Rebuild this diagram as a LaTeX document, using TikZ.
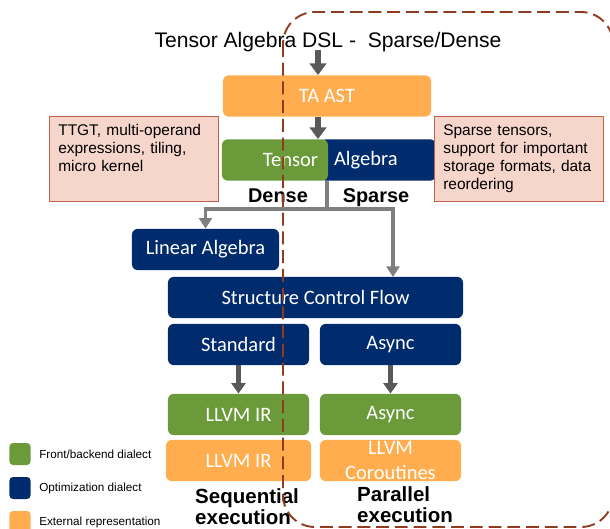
\documentclass[tikz,border=0pt]{standalone}
\usepackage{fontspec}
\setmainfont{Liberation Sans}
\newfontfamily\carlito{Carlito}
\usetikzlibrary{arrows.meta,positioning}

\definecolor{frontgreen}{HTML}{6B9A3A}
\definecolor{optnavy}{HTML}{002B6C}
\definecolor{extorange}{HTML}{FFAD4F}
\definecolor{notefill}{HTML}{F6D5CA}
\definecolor{noteline}{HTML}{C0614B}
\definecolor{flowgray}{HTML}{595959}
\definecolor{forkgray}{HTML}{7F7F7F}
\definecolor{borderbrown}{HTML}{8E3B1F}

\begin{document}
\begin{tikzpicture}
		[x=0.03cm,y=-0.03cm,
		dialect/.style={shape=rectangle,rounded corners=5pt,inner sep=0pt,minimum height=1.24cm,text=white,font=\carlito\fontsize{17.5}{20.5}\selectfont},
		front node/.style={dialect,fill=frontgreen},
		opt node/.style={dialect,fill=optnavy},
		ext node/.style={dialect,fill=extorange},
		note node/.style={shape=rectangle,draw=noteline,fill=notefill,line width=0.9pt,anchor=north west,align=left,text width=4.55cm,inner xsep=7.5pt,inner ysep=6.8pt,text height=9pt,text depth=50pt,font=\fontsize{13.2}{15.4}\selectfont},
		key node/.style={shape=rectangle,rounded corners=3pt,minimum width=0.63cm,minimum height=0.66cm,inner sep=0pt},
		heavy flow/.style={draw=flowgray,line width=5pt,-{Triangle[length=10pt,width=14pt]}},
		flow/.style={draw=flowgray,line width=3.5pt,-{Triangle[length=9pt,width=12pt]}},
		fork/.style={draw=forkgray,line width=3.2pt},
		border/.style={draw=borderbrown,line width=1.6pt,dash pattern=on 11pt off 5pt,rounded corners=0.96cm}]
		
		\useasboundingbox (0,0) rectangle (610,529);
		\clip (0,0) rectangle (610,529);
		
		\node[anchor=base,font=\fontsize{18}{20}\selectfont] (dsl) at (328,47) {Tensor Algebra DSL -\ \ Sparse/Dense};
		\node[ext node,minimum width=6.24cm] (tast) at (327,96) {TA AST};
		\node[opt node,minimum width=3.48cm,align=left,text width=2.64cm,inner xsep=0.42cm] (algebra) at (378,160) {Algebra};
		\node[front node,minimum width=3.18cm,align=right,text width=2.58cm,inner xsep=0.3cm] (tensor) at (275,160) {Tensor};
		
		\node[note node] (dense note) at (49,116) {TTGT, multi-operand\\expressions, tiling,\\micro kernel};
		\node[note node] (sparse note) at (434,116) {Sparse tensors,\\support for important\\storage formats, data\\reordering};
		
		\node[anchor=base,font=\bfseries\fontsize{17}{18}\selectfont] (dense) at (278,202) {Dense};
		\node[anchor=base,font=\bfseries\fontsize{17}{18}\selectfont] (sparse) at (376,202) {Sparse};
		
		\node[opt node,minimum width=4.41cm] (linalg) at (205.5,249.5) {Linear Algebra};
		\node[opt node,minimum width=8.85cm] (scf) at (315.5,297.5) {Structure Control Flow};
		\node[opt node,minimum width=4.23cm] (standard) at (238.5,344.5) {Standard};
		\node[opt node,minimum width=4.23cm] (async) at (390.5,344.5) {Async};
		\node[front node,minimum width=4.23cm] (llvm ir) at (238.5,414.5) {LLVM IR};
		\node[front node,minimum width=4.23cm] (async lowered) at (390.5,414.5) {Async};
		\node[ext node,minimum width=4.35cm] (llvm ir ext) at (238.5,460.5) {LLVM IR};
		\node[ext node,minimum width=4.23cm,align=center] (coroutines) at (390.5,460.5) {LLVM\\Coroutines};
		
		\node[anchor=north west,align=left,inner sep=0pt,font=\bfseries\fontsize{17.5}{18.5}\selectfont] (sequential) at (195,488) {Sequential\\execution};
		\node[anchor=north west,align=left,inner sep=0pt,font=\bfseries\fontsize{17.5}{18.5}\selectfont] (parallel) at (357,486) {Parallel\\execution};
		
		% legend
		\node[key node,fill=frontgreen] (key front) at (20,454) {};
		\node[key node,fill=optnavy] (key opt) at (20,488) {};
		\node[key node,fill=extorange] (key ext) at (20,522) {};
		\node[right=0.25cm of key front,inner sep=0pt,font=\fontsize{10}{12}\selectfont] (key front text) {Front/backend dialect};
		\node[right=0.25cm of key opt,inner sep=0pt,font=\fontsize{10}{12}\selectfont] (key opt text) {Optimization dialect};
		\node[right=0.25cm of key ext,inner sep=0pt,font=\fontsize{10}{12}\selectfont] (key ext text) {External representation};
		
		\coordinate (dsl out) at (318,50);
		\coordinate (split) at (327,209);
		\coordinate (scf in) at (393,277);
		
		\draw[heavy flow] (dsl out) -- (dsl out |- tast.north);
		\draw[heavy flow] (dsl out |- tast.south) -- (dsl out |- tensor.north);
		\draw[fork] (split |- tensor.south) -- (split);
		\draw[fork,-{Triangle[length=9pt,width=11pt]}] (split) -| (linalg.north);
		\draw[fork,-{Triangle[length=9pt,width=11pt]}] (split) -| (scf in);
		\draw[flow] (standard.south) -- (llvm ir.north);
		\draw[flow] (async.south) -- (async lowered.north);
		
		\draw[border] (283,12) rectangle (613,527);
		
\end{tikzpicture}
\end{document}
